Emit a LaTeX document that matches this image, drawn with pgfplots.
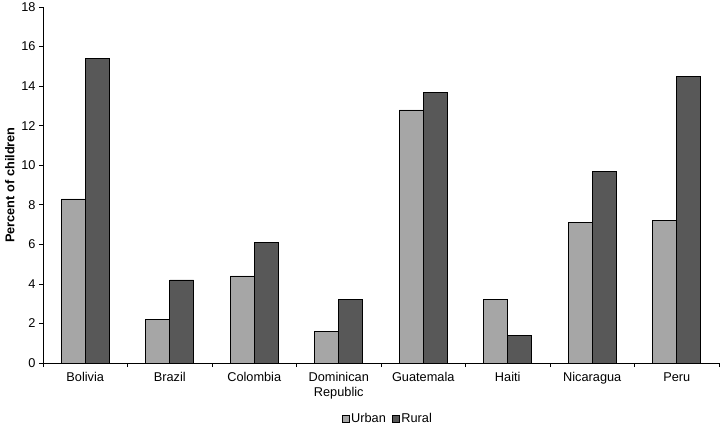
\documentclass[border=0pt]{standalone}
\usepackage{pgfplots}
\pgfplotsset{compat=1.18}
\usepackage{fontspec}
\setmainfont{Liberation Sans}
\definecolor{urban}{HTML}{A6A6A6}
\definecolor{rural}{HTML}{585858}
\newcommand{\cf}{\fontsize{12.8}{14.5}\selectfont}
\begin{document}
\begin{tikzpicture}
\useasboundingbox (-43bp,-63bp) rectangle (677bp,363bp);
\begin{axis}[
  scale only axis,
  width=676bp, height=356bp,
  at={(0,0)}, anchor=south west,
  xmin=-0.5, xmax=7.5,
  ymin=0, ymax=18,
  ytick={0,2,...,18},
  xtick={0,...,7},
  xticklabels={Bolivia,Brazil,Colombia,{Dominican\\Republic},Guatemala,Haiti,Nicaragua,Peru},
  tick label style={font=\cf},
  xticklabel style={align=center, yshift=-2bp},
  major x tick style={draw=none},
  minor xtick={-0.5,0.5,...,7.5},
  tick align=outside,
  major tick length=4bp,
  minor tick length=4bp,
  tick style={black, line width=0.6pt},
  axis x line*=bottom,
  axis y line*=left,
  axis line style={black, line width=0.6pt},
  /pgf/number format/assume math mode=true,
  ylabel={\textbf{Percent of children}},
  ylabel style={font=\cf, at={(axis description cs:-0.049,0.5)}, anchor=center},
  ybar, bar width=0.284,
  legend style={font=\cf, at={(0.51,-0.157)}, anchor=center, draw=none, legend columns=2,
    /tikz/every even column/.append style={column sep=4bp}, inner sep=0pt},
  legend image code/.code={\draw[#1, draw=black, line width=0.5pt] (0bp,-3.5bp) rectangle (7bp,3.5bp);},
]
\addplot[fill=urban, draw=black, line width=0.6pt, bar shift=-0.142] coordinates {
(0,8.3) (1,2.2) (2,4.4) (3,1.6) (4,12.8) (5,3.2) (6,7.1) (7,7.2)};
\addplot[fill=rural, draw=black, line width=0.6pt, bar shift=0.142] coordinates {
(0,15.4) (1,4.2) (2,6.1) (3,3.2) (4,13.7) (5,1.4) (6,9.7) (7,14.5)};
\legend{Urban,Rural}
\end{axis}
\end{tikzpicture}
\end{document}
